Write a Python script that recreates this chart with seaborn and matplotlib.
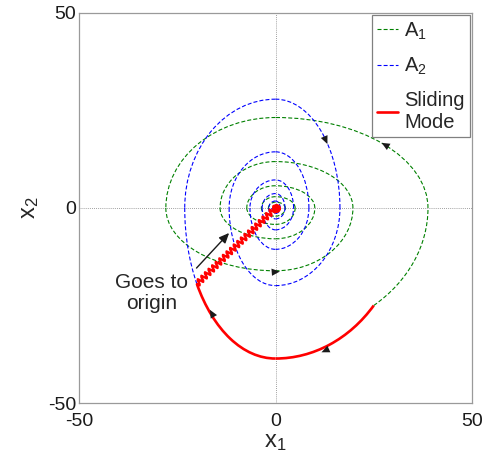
import numpy as np
import matplotlib
matplotlib.use("Agg")
import matplotlib.pyplot as plt
from matplotlib.patches import Arc
from matplotlib.lines import Line2D
import seaborn as sns
import pandas as pd

# ---------------- data ----------------
axis_ticks = [-50, 0, 50]
tick_labels = ["-50", "0", "50"]

# A1 trajectory (counter-clockwise): start point, then successive axis
# crossings alternating x-axis, y-axis (+x, +y, -x, -y, ...)
a1_start = [25.0, -25.0]
a1_crossings = [38.8, 23.2, -27.9, -16.1, 19.7, 11.9, -14.1, -7.9, 10.0, 5.7,
                -7.3, -4.2, 5.0, 2.9, -3.6, -2.1, 2.5, 1.5, -1.8, -1.0, 1.2]

# A2 trajectory (clockwise): start point, then crossings (-x, +y, +x, -y, ...)
a2_start = [-20.0, -19.5]
a2_crossings = [-23.1, 27.9, 16.4, -19.9, -11.8, 14.4, 8.5, -10.6, -6.5, 7.2,
                4.6, -5.6, -3.4, 3.7, 2.4, -2.8, -1.7, 1.8, 1.2, -1.4, -0.9]

# Sliding mode: reaching arc (start, lowest point on x2 axis, end)
slide_arc_x1 = [25.0, 0.0, -20.0]
slide_arc_x2 = [-25.0, -38.6, -19.5]
# chattering segment to the origin
slide_x1 = [-20.0, 0.0]
slide_x2 = [-19.5, 0.0]

# direction arrowheads on the trajectories (tip position, direction)
arrow_x1 = [27.0, 13.2, 1.1, 11.7, -16.7]
arrow_x2 = [16.7, 16.4, -16.3, -37.0, -26.1]
arrow_dx = [-0.87, 0.39, 1.0, -0.91, -0.49]
arrow_dy = [0.50, -0.92, 0.08, -0.41, 0.87]

# annotation
note_text = "Goes to\norigin"
note_pos = [-31.5, -21.8]
note_tail = [-20.1, -15.4]
note_head = [-11.8, -6.4]

legend_labels = [r"A$_1$", r"A$_2$", "Sliding\nMode"]

GREEN = "#008000"
BLUE = "#0000ff"
RED = "#ff0000"

# ---------------- style ----------------
sns.set_theme(style="white")
plt.rcParams["font.family"] = ["Liberation Sans", "DejaVu Sans"]
plt.rcParams["mathtext.fontset"] = "custom"
plt.rcParams["mathtext.rm"] = "Liberation Sans"
plt.rcParams["mathtext.it"] = "Liberation Sans"
plt.rcParams["mathtext.default"] = "regular"

fig = plt.figure(figsize=(4.91, 4.62), dpi=100)
ax = fig.add_axes([0.1609, 0.1277, 0.8004, 0.8442])


def angle_of(p):
    return np.degrees(np.arctan2(p[1], p[0])) % 360.0


def arc_between(p, q, **kw):
    """Partial ellipse centred on the origin joining p and q,
    one of which lies on an axis."""
    p = np.asarray(p, float)
    q = np.asarray(q, float)
    if p[0] == 0.0 or q[0] == 0.0:          # one point on the x2 axis
        on, other = (p, q) if p[0] == 0.0 else (q, p)
        b = abs(on[1])
        if other[1] == 0.0:
            a = abs(other[0])
        else:
            a = abs(other[0]) / np.sqrt(max(1.0 - (other[1] / b) ** 2, 1e-6))
    else:                                    # one point on the x1 axis
        on, other = (p, q) if p[1] == 0.0 else (q, p)
        a = abs(on[0])
        b = abs(other[1]) / np.sqrt(max(1.0 - (other[0] / a) ** 2, 1e-6))
    t1, t2 = angle_of(p), angle_of(q)
    if (t2 - t1) % 360.0 <= 180.0:
        th1, th2 = t1, t1 + (t2 - t1) % 360.0
    else:
        th1, th2 = t2, t2 + (t1 - t2) % 360.0
    ax.add_patch(Arc((0, 0), 2 * a, 2 * b, theta1=th1, theta2=th2, **kw))


def crossing_points(crossings):
    return [(c, 0.0) if i % 2 == 0 else (0.0, c) for i, c in enumerate(crossings)]


def draw_trajectory(start, crossings, **kw):
    pts = [tuple(start)] + crossing_points(crossings)
    for p, q in zip(pts[:-1], pts[1:]):
        arc_between(p, q, **kw)


dash = (0, (3.6, 1.9))
draw_trajectory(a1_start, a1_crossings, color=GREEN, lw=0.8, linestyle=dash)
draw_trajectory(a2_start, a2_crossings, color=BLUE, lw=0.8, linestyle=dash)

# sliding mode reaching arc
arc_pts = list(zip(slide_arc_x1, slide_arc_x2))
for p, q in zip(arc_pts[:-1], arc_pts[1:]):
    arc_between(p, q, color=RED, lw=1.9, linestyle="-")

# chattering segment along the sliding surface
slide_df = pd.DataFrame({"x1": slide_x1, "x2": slide_x2})
sns.lineplot(data=slide_df, x="x1", y="x2", sort=False, color=RED, lw=1.7,
             ax=ax, legend=False)
zig = ax.lines[-1]
zig.set_sketch_params(scale=3.0, length=5.0, randomness=1.0)
ax.plot(slide_x1[-1:], slide_x2[-1:], "o", color=RED, ms=5.5, mec=RED)

# direction arrowheads (head only)
for x, y, dx, dy in zip(arrow_x1, arrow_x2, arrow_dx, arrow_dy):
    ax.annotate("", xy=(x, y), xytext=(x - 2.5 * dx, y - 2.5 * dy),
                arrowprops=dict(arrowstyle="-|>,head_length=0.45,head_width=0.2",
                                color="k", lw=0.0, shrinkA=0, shrinkB=0,
                                mutation_scale=13))

# annotation
ax.text(note_pos[0], note_pos[1], note_text, ha="center", va="center",
        fontsize=15, linespacing=1.1)
ax.annotate("", xy=note_head, xytext=note_tail,
            arrowprops=dict(arrowstyle="-|>,head_length=0.5,head_width=0.22",
                            color="k", lw=1.0, shrinkA=0, shrinkB=0,
                            mutation_scale=12))

# axes
ax.set_xlim(-50, 50)
ax.set_ylim(-50, 50)
ax.set_xticks(axis_ticks)
ax.set_yticks(axis_ticks)
ax.set_xticklabels(tick_labels)
ax.set_yticklabels(tick_labels)
ax.tick_params(axis="both", length=0, labelsize=14, colors="k")
ax.tick_params(axis="x", pad=7)
ax.tick_params(axis="y", pad=2)
ax.grid(True, linestyle=(0, (1, 1.5)), color="#808080", lw=0.6)
for s in ax.spines.values():
    s.set_color("#9a9a9a")
    s.set_linewidth(0.9)
ax.set_xlabel(r"x$_1$", fontsize=17, labelpad=1)
ax.set_ylabel(r"x$_2$", fontsize=17, labelpad=5)

# legend
handles = [Line2D([], [], color=GREEN, lw=0.8, linestyle=dash),
           Line2D([], [], color=BLUE, lw=0.8, linestyle=dash),
           Line2D([], [], color=RED, lw=1.9)]
leg = ax.legend(handles, legend_labels, loc="upper right",
                bbox_to_anchor=(1.0, 1.0), borderaxespad=0.12, fontsize=14.5,
                frameon=True, fancybox=False, handlelength=1.05,
                handletextpad=0.3, labelspacing=0.7, borderpad=0.25,
                framealpha=1.0)
leg.get_frame().set_edgecolor("#808080")
leg.get_frame().set_linewidth(0.9)

fig.savefig("out.png", dpi=100)
